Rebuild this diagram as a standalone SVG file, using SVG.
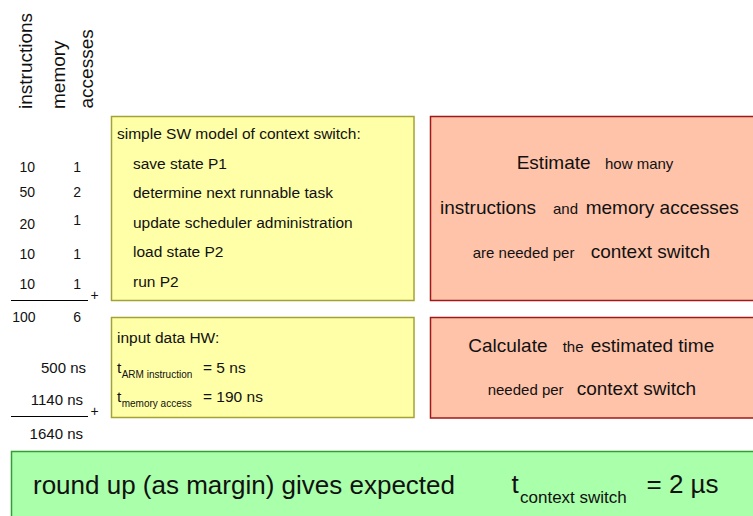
<svg xmlns="http://www.w3.org/2000/svg" width="753" height="516" viewBox="0 0 753 516">
<style>
text{font-family:"Liberation Sans",Arial,sans-serif;fill:#111}
.hdr{font-size:19px}
.num{font-size:14px}
.ns{font-size:15px}
.yt{font-size:15.5px}
.sub{font-size:10px}
.big{font-size:19px}
.sm{font-size:15px}
.r{text-anchor:end}
.yel{fill:#ffffa8;stroke:#a3a335;stroke-width:1.5}
.red{fill:#ffc3aa;stroke:#a01818;stroke-width:1.5}
.grn{fill:#aaffaa;stroke:#30a030;stroke-width:1.5}
.rule{stroke:#000;stroke-width:1}
</style>
<rect width="753" height="516" fill="#fff"/>
<g id="headers">
<text class="hdr" transform="translate(32,109) rotate(-90)">instructions</text>
<text class="hdr" transform="translate(65,109) rotate(-90)">memory</text>
<text class="hdr" transform="translate(92.5,108.5) rotate(-90)">accesses</text>
</g>
<g id="counts">
<text class="num r" x="35" y="171.5">10</text><text class="num r" x="81" y="171.5">1</text>
<text class="num r" x="35" y="197">50</text><text class="num r" x="81" y="197">2</text>
<text class="num r" x="35" y="228.5">20</text><text class="num r" x="81" y="224.5">1</text>
<text class="num r" x="35" y="259">10</text><text class="num r" x="81" y="259">1</text>
<text class="num r" x="35" y="288.5">10</text><text class="num r" x="81" y="288.5">1</text>
<line class="rule" x1="11" y1="300.5" x2="88" y2="300.5"/>
<text class="num" x="90.5" y="300">+</text>
<text class="num r" x="35.5" y="321.5">100</text><text class="num r" x="81" y="321.5">6</text>
</g>
<g id="times">
<text class="ns r" x="86" y="373">500 ns</text>
<text class="ns r" x="83" y="405">1140 ns</text>
<line class="rule" x1="11" y1="416.5" x2="88" y2="416.5"/>
<text class="num" x="90.5" y="416">+</text>
<text class="ns r" x="83" y="439">1640 ns</text>
</g>
<g id="sw-model">
<rect class="yel" x="111.5" y="116.5" width="302.5" height="184"/>
<text class="yt" x="117" y="139">simple SW model of context switch:</text>
<text class="yt" x="133" y="168.5">save state P1</text>
<text class="yt" x="133" y="198">determine next runnable task</text>
<text class="yt" x="133" y="227.5">update scheduler administration</text>
<text class="yt" x="133" y="257">load state P2</text>
<text class="yt" x="133" y="286.5">run P2</text>
</g>
<g id="hw-input">
<rect class="yel" x="111.5" y="317.5" width="302.5" height="100"/>
<text class="yt" x="117" y="343">input data HW:</text>
<text class="yt" x="117" y="373">t</text><text class="sub" x="121.7" y="377.5">ARM instruction</text><text class="yt" x="203" y="373">= 5 ns</text>
<text class="yt" x="117" y="402">t</text><text class="sub" x="121.7" y="406.5">memory access</text><text class="yt" x="203" y="402">= 190 ns</text>
</g>
<g id="estimate">
<rect class="red" x="430.5" y="116.5" width="330" height="184"/>
<text y="169"><tspan class="big" x="516.7">Estimate</tspan><tspan class="sm" x="605">how many</tspan></text>
<text y="214"><tspan class="big" x="440">instructions</tspan><tspan class="sm" x="553">and</tspan><tspan class="big" x="585.7">memory accesses</tspan></text>
<text y="258"><tspan class="sm" x="472.7">are needed per</tspan><tspan class="big" x="590.7">context switch</tspan></text>
</g>
<g id="calculate">
<rect class="red" x="430.5" y="317.5" width="330" height="100.5"/>
<text y="351.7"><tspan class="big" x="468.3">Calculate</tspan><tspan class="sm" x="562.7">the</tspan><tspan class="big" x="590.7">estimated time</tspan></text>
<text y="395"><tspan class="sm" x="487.7">needed per</tspan><tspan class="big" x="576.7">context switch</tspan></text>
</g>
<g id="result">
<rect class="grn" x="11.5" y="451.5" width="760" height="80"/>
<text x="33" y="494" style="font-size:26px">round up (as margin) gives expected</text>
<text x="511.5" y="493" style="font-size:26px">t</text>
<text x="520" y="502.7" style="font-size:17px">context switch</text>
<text x="646.5" y="493" style="font-size:26px">= 2 µs</text>
</g>
<g id="connectors"></g>
</svg>
